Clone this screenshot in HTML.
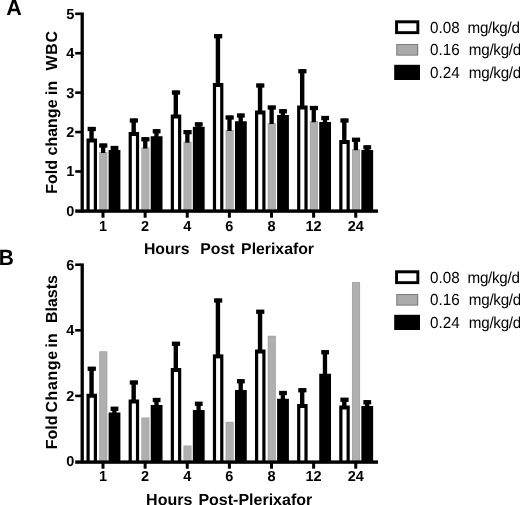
<!DOCTYPE html>
<html><head><meta charset="utf-8"><title>Figure</title>
<style>
html,body{margin:0;padding:0;background:#fff;}
body{width:520px;height:505px;overflow:hidden;}
svg{display:block;}
text{font-family:"Liberation Sans",Arial,sans-serif;fill:#000;text-rendering:geometricPrecision;}
.tk{font-size:14.5px;font-weight:bold;}
.pl{font-size:22px;font-weight:bold;}
.xl{font-size:15.8px;font-weight:bold;}
.yla{font-size:16px;font-weight:bold;}
.ylb{font-size:16px;font-weight:bold;}
.lg{font-size:16px;}
</style></head><body>
<svg width="520" height="505" viewBox="0 0 520 505">
<rect width="520" height="505" fill="#fff"/>
<rect x="86.5" y="138.5" width="10.5" height="72.2" fill="#000"/>
<rect x="89.7" y="142.5" width="4.1" height="68.2" fill="#fff"/>
<rect x="89.35" y="127.25" width="4.4" height="12.25" fill="#000"/>
<rect x="87.65" y="126.85" width="8.2" height="4.3" fill="#000"/>
<rect x="99.2" y="152" width="8.15" height="58.7" fill="#a2a2a2"/>
<rect x="99.9" y="152.7" width="6.75" height="58" fill="#afafaf"/>
<rect x="100.98" y="143.75" width="4.3" height="9.25" fill="#000"/>
<rect x="99.18" y="143.35" width="8.2" height="4.3" fill="#000"/>
<rect x="108.6" y="150" width="11.8" height="60.7" fill="#000"/>
<rect x="112.2" y="146.25" width="4.3" height="4.75" fill="#000"/>
<rect x="110.6" y="145.85" width="7.8" height="4.3" fill="#000"/>
<rect x="128.62" y="132" width="10.5" height="78.7" fill="#000"/>
<rect x="131.82" y="136" width="4.1" height="74.7" fill="#fff"/>
<rect x="131.47" y="118.75" width="4.4" height="14.25" fill="#000"/>
<rect x="129.78" y="118.35" width="8.2" height="4.3" fill="#000"/>
<rect x="141.32" y="147.5" width="8.15" height="63.2" fill="#a2a2a2"/>
<rect x="142.02" y="148.2" width="6.75" height="62.5" fill="#afafaf"/>
<rect x="143.1" y="137.5" width="4.3" height="11" fill="#000"/>
<rect x="141.3" y="137.1" width="8.2" height="4.3" fill="#000"/>
<rect x="150.72" y="136.25" width="11.8" height="74.45" fill="#000"/>
<rect x="154.32" y="129.5" width="4.3" height="7.75" fill="#000"/>
<rect x="152.72" y="129.1" width="7.8" height="4.3" fill="#000"/>
<rect x="170.75" y="114.5" width="10.5" height="96.2" fill="#000"/>
<rect x="173.95" y="118.5" width="4.1" height="92.2" fill="#fff"/>
<rect x="173.6" y="90.75" width="4.4" height="24.75" fill="#000"/>
<rect x="171.9" y="90.35" width="8.2" height="4.3" fill="#000"/>
<rect x="183.45" y="141.7" width="8.15" height="69" fill="#a2a2a2"/>
<rect x="184.15" y="142.4" width="6.75" height="68.3" fill="#afafaf"/>
<rect x="185.22" y="130.4" width="4.3" height="12.3" fill="#000"/>
<rect x="183.43" y="130" width="8.2" height="4.3" fill="#000"/>
<rect x="192.85" y="126.8" width="11.8" height="83.9" fill="#000"/>
<rect x="196.45" y="122.6" width="4.3" height="5.2" fill="#000"/>
<rect x="194.85" y="122.2" width="7.8" height="4.3" fill="#000"/>
<rect x="212.88" y="83" width="10.5" height="127.7" fill="#000"/>
<rect x="216.07" y="87" width="4.1" height="123.7" fill="#fff"/>
<rect x="215.72" y="34.5" width="4.4" height="49.5" fill="#000"/>
<rect x="214.03" y="34.1" width="8.2" height="4.3" fill="#000"/>
<rect x="225.57" y="130" width="8.15" height="80.7" fill="#a2a2a2"/>
<rect x="226.27" y="130.7" width="6.75" height="80" fill="#afafaf"/>
<rect x="227.35" y="115.75" width="4.3" height="15.25" fill="#000"/>
<rect x="225.55" y="115.35" width="8.2" height="4.3" fill="#000"/>
<rect x="234.97" y="121.25" width="11.8" height="89.45" fill="#000"/>
<rect x="238.57" y="113.75" width="4.3" height="8.5" fill="#000"/>
<rect x="236.97" y="113.35" width="7.8" height="4.3" fill="#000"/>
<rect x="255" y="110.5" width="10.5" height="100.2" fill="#000"/>
<rect x="258.2" y="114.5" width="4.1" height="96.2" fill="#fff"/>
<rect x="257.85" y="83.75" width="4.4" height="27.75" fill="#000"/>
<rect x="256.15" y="83.35" width="8.2" height="4.3" fill="#000"/>
<rect x="267.7" y="123" width="8.15" height="87.7" fill="#a2a2a2"/>
<rect x="268.4" y="123.7" width="6.75" height="87" fill="#afafaf"/>
<rect x="269.47" y="105.75" width="4.3" height="18.25" fill="#000"/>
<rect x="267.67" y="105.35" width="8.2" height="4.3" fill="#000"/>
<rect x="277.1" y="115" width="11.8" height="95.7" fill="#000"/>
<rect x="280.7" y="109.5" width="4.3" height="6.5" fill="#000"/>
<rect x="279.1" y="109.1" width="7.8" height="4.3" fill="#000"/>
<rect x="297.12" y="105.5" width="10.5" height="105.2" fill="#000"/>
<rect x="300.32" y="109.5" width="4.1" height="101.2" fill="#fff"/>
<rect x="299.98" y="69.5" width="4.4" height="37" fill="#000"/>
<rect x="298.27" y="69.1" width="8.2" height="4.3" fill="#000"/>
<rect x="309.82" y="121.25" width="8.15" height="89.45" fill="#a2a2a2"/>
<rect x="310.52" y="121.95" width="6.75" height="88.75" fill="#afafaf"/>
<rect x="311.6" y="106.25" width="4.3" height="16" fill="#000"/>
<rect x="309.8" y="105.85" width="8.2" height="4.3" fill="#000"/>
<rect x="319.23" y="122" width="11.8" height="88.7" fill="#000"/>
<rect x="322.82" y="116.25" width="4.3" height="6.75" fill="#000"/>
<rect x="321.23" y="115.85" width="7.8" height="4.3" fill="#000"/>
<rect x="339.25" y="140" width="10.5" height="70.7" fill="#000"/>
<rect x="342.45" y="144" width="4.1" height="66.7" fill="#fff"/>
<rect x="342.1" y="118.75" width="4.4" height="22.25" fill="#000"/>
<rect x="340.4" y="118.35" width="8.2" height="4.3" fill="#000"/>
<rect x="351.95" y="149.2" width="8.15" height="61.5" fill="#a2a2a2"/>
<rect x="352.65" y="149.9" width="6.75" height="60.8" fill="#afafaf"/>
<rect x="353.72" y="138" width="4.3" height="12.2" fill="#000"/>
<rect x="351.92" y="137.6" width="8.2" height="4.3" fill="#000"/>
<rect x="361.35" y="150" width="11.8" height="60.7" fill="#000"/>
<rect x="364.95" y="145.6" width="4.3" height="5.4" fill="#000"/>
<rect x="363.35" y="145.2" width="7.8" height="4.3" fill="#000"/>
<rect x="80.55" y="12.45" width="3.3" height="200.15" fill="#000"/>
<rect x="75.2" y="209.4" width="302.8" height="3.4" fill="#000"/>
<text x="74.3" y="215.8" text-anchor="end" class="tk">0</text>
<rect x="75.2" y="170.18" width="5.8" height="2.6" fill="#000"/>
<text x="74.3" y="176.38" text-anchor="end" class="tk">1</text>
<rect x="75.2" y="130.76" width="5.8" height="2.6" fill="#000"/>
<text x="74.3" y="136.96" text-anchor="end" class="tk">2</text>
<rect x="75.2" y="91.34" width="5.8" height="2.6" fill="#000"/>
<text x="74.3" y="97.54" text-anchor="end" class="tk">3</text>
<rect x="75.2" y="51.92" width="5.8" height="2.6" fill="#000"/>
<text x="74.3" y="58.12" text-anchor="end" class="tk">4</text>
<rect x="75.2" y="12.5" width="5.8" height="2.6" fill="#000"/>
<text x="74.3" y="18.7" text-anchor="end" class="tk">5</text>
<rect x="101.5" y="210.9" width="3" height="6.8" fill="#000"/>
<text x="103" y="230.5" text-anchor="middle" class="tk">1</text>
<rect x="143.62" y="210.9" width="3" height="6.8" fill="#000"/>
<text x="145.12" y="230.5" text-anchor="middle" class="tk">2</text>
<rect x="185.75" y="210.9" width="3" height="6.8" fill="#000"/>
<text x="187.25" y="230.5" text-anchor="middle" class="tk">4</text>
<rect x="227.88" y="210.9" width="3" height="6.8" fill="#000"/>
<text x="229.38" y="230.5" text-anchor="middle" class="tk">6</text>
<rect x="270" y="210.9" width="3" height="6.8" fill="#000"/>
<text x="271.5" y="230.5" text-anchor="middle" class="tk">8</text>
<rect x="312.12" y="210.9" width="3" height="6.8" fill="#000"/>
<text x="313.62" y="230.5" text-anchor="middle" class="tk">12</text>
<rect x="354.25" y="210.9" width="3" height="6.8" fill="#000"/>
<text x="355.75" y="230.5" text-anchor="middle" class="tk">24</text>
<rect x="86.5" y="393.75" width="10.5" height="67.55" fill="#000"/>
<rect x="89.7" y="397.75" width="4.1" height="63.55" fill="#fff"/>
<rect x="89.35" y="367" width="4.4" height="27.75" fill="#000"/>
<rect x="87.65" y="366.6" width="8.2" height="4.3" fill="#000"/>
<rect x="99.2" y="351.25" width="8.15" height="110.05" fill="#a2a2a2"/>
<rect x="99.9" y="351.95" width="6.75" height="109.35" fill="#afafaf"/>
<rect x="108.6" y="412.5" width="11.8" height="48.8" fill="#000"/>
<rect x="112.2" y="407" width="4.3" height="6.5" fill="#000"/>
<rect x="110.6" y="406.6" width="7.8" height="4.3" fill="#000"/>
<rect x="128.62" y="399.5" width="10.5" height="61.8" fill="#000"/>
<rect x="131.82" y="403.5" width="4.1" height="57.8" fill="#fff"/>
<rect x="131.47" y="380.75" width="4.4" height="19.75" fill="#000"/>
<rect x="129.78" y="380.35" width="8.2" height="4.3" fill="#000"/>
<rect x="141.32" y="417.5" width="8.15" height="43.8" fill="#a2a2a2"/>
<rect x="142.02" y="418.2" width="6.75" height="43.1" fill="#afafaf"/>
<rect x="150.72" y="405" width="11.8" height="56.3" fill="#000"/>
<rect x="154.32" y="398.25" width="4.3" height="7.75" fill="#000"/>
<rect x="152.72" y="397.85" width="7.8" height="4.3" fill="#000"/>
<rect x="170.75" y="368" width="10.5" height="93.3" fill="#000"/>
<rect x="173.95" y="372" width="4.1" height="89.3" fill="#fff"/>
<rect x="173.6" y="342" width="4.4" height="27" fill="#000"/>
<rect x="171.9" y="341.6" width="8.2" height="4.3" fill="#000"/>
<rect x="183.45" y="445.5" width="8.15" height="15.8" fill="#a2a2a2"/>
<rect x="184.15" y="446.2" width="6.75" height="15.1" fill="#afafaf"/>
<rect x="192.85" y="410" width="11.8" height="51.3" fill="#000"/>
<rect x="196.45" y="402" width="4.3" height="9" fill="#000"/>
<rect x="194.85" y="401.6" width="7.8" height="4.3" fill="#000"/>
<rect x="212.88" y="354.4" width="10.5" height="106.9" fill="#000"/>
<rect x="216.07" y="358.4" width="4.1" height="102.9" fill="#fff"/>
<rect x="215.72" y="298.75" width="4.4" height="56.65" fill="#000"/>
<rect x="214.03" y="298.35" width="8.2" height="4.3" fill="#000"/>
<rect x="225.57" y="421.8" width="8.15" height="39.5" fill="#a2a2a2"/>
<rect x="226.27" y="422.5" width="6.75" height="38.8" fill="#afafaf"/>
<rect x="234.97" y="390" width="11.8" height="71.3" fill="#000"/>
<rect x="238.57" y="379.5" width="4.3" height="11.5" fill="#000"/>
<rect x="236.97" y="379.1" width="7.8" height="4.3" fill="#000"/>
<rect x="255" y="349.5" width="10.5" height="111.8" fill="#000"/>
<rect x="258.2" y="353.5" width="4.1" height="107.8" fill="#fff"/>
<rect x="257.85" y="310" width="4.4" height="40.5" fill="#000"/>
<rect x="256.15" y="309.6" width="8.2" height="4.3" fill="#000"/>
<rect x="267.7" y="335.75" width="8.15" height="125.55" fill="#a2a2a2"/>
<rect x="268.4" y="336.45" width="6.75" height="124.85" fill="#afafaf"/>
<rect x="277.1" y="398.75" width="11.8" height="62.55" fill="#000"/>
<rect x="280.7" y="391.25" width="4.3" height="8.5" fill="#000"/>
<rect x="279.1" y="390.85" width="7.8" height="4.3" fill="#000"/>
<rect x="297.12" y="404" width="10.5" height="57.3" fill="#000"/>
<rect x="300.32" y="408" width="4.1" height="53.3" fill="#fff"/>
<rect x="299.98" y="388.5" width="4.4" height="16.5" fill="#000"/>
<rect x="298.27" y="388.1" width="8.2" height="4.3" fill="#000"/>
<rect x="319.23" y="373.75" width="11.8" height="87.55" fill="#000"/>
<rect x="322.82" y="350.5" width="4.3" height="24.25" fill="#000"/>
<rect x="321.23" y="350.1" width="7.8" height="4.3" fill="#000"/>
<rect x="339.25" y="405.5" width="10.5" height="55.8" fill="#000"/>
<rect x="342.45" y="409.5" width="4.1" height="51.8" fill="#fff"/>
<rect x="342.1" y="398" width="4.4" height="8.5" fill="#000"/>
<rect x="340.4" y="397.6" width="8.2" height="4.3" fill="#000"/>
<rect x="351.95" y="282" width="8.15" height="179.3" fill="#a2a2a2"/>
<rect x="352.65" y="282.7" width="6.75" height="178.6" fill="#afafaf"/>
<rect x="361.35" y="406" width="11.8" height="55.3" fill="#000"/>
<rect x="364.95" y="400.5" width="4.3" height="6.5" fill="#000"/>
<rect x="363.35" y="400.1" width="7.8" height="4.3" fill="#000"/>
<rect x="80.55" y="263.4" width="3.3" height="199.8" fill="#000"/>
<rect x="75.2" y="460.4" width="302.8" height="3.4" fill="#000"/>
<text x="74.3" y="466.4" text-anchor="end" class="tk">0</text>
<rect x="75.2" y="394.6" width="5.8" height="2.6" fill="#000"/>
<text x="74.3" y="400.8" text-anchor="end" class="tk">2</text>
<rect x="75.2" y="329" width="5.8" height="2.6" fill="#000"/>
<text x="74.3" y="335.2" text-anchor="end" class="tk">4</text>
<rect x="75.2" y="263.4" width="5.8" height="2.6" fill="#000"/>
<text x="74.3" y="269.6" text-anchor="end" class="tk">6</text>
<rect x="101.5" y="461.5" width="3" height="7.2" fill="#000"/>
<text x="103" y="481.1" text-anchor="middle" class="tk">1</text>
<rect x="143.62" y="461.5" width="3" height="7.2" fill="#000"/>
<text x="145.12" y="481.1" text-anchor="middle" class="tk">2</text>
<rect x="185.75" y="461.5" width="3" height="7.2" fill="#000"/>
<text x="187.25" y="481.1" text-anchor="middle" class="tk">4</text>
<rect x="227.88" y="461.5" width="3" height="7.2" fill="#000"/>
<text x="229.38" y="481.1" text-anchor="middle" class="tk">6</text>
<rect x="270" y="461.5" width="3" height="7.2" fill="#000"/>
<text x="271.5" y="481.1" text-anchor="middle" class="tk">8</text>
<rect x="312.12" y="461.5" width="3" height="7.2" fill="#000"/>
<text x="313.62" y="481.1" text-anchor="middle" class="tk">12</text>
<rect x="354.25" y="461.5" width="3" height="7.2" fill="#000"/>
<text x="355.75" y="481.1" text-anchor="middle" class="tk">24</text>
<rect x="395.1" y="20.3" width="24.2" height="13.8" fill="#000"/>
<rect x="398" y="23.3" width="18.4" height="7.9" fill="#fff"/>
<rect x="396.3" y="44.1" width="21.9" height="11.5" fill="#6e6e6e"/>
<rect x="397.2" y="45" width="20.1" height="9.7" fill="#aaaaaa"/>
<rect x="394.2" y="64.8" width="25.8" height="15.2" fill="#000"/>
<text transform="translate(430.1,32.7) scale(0.95,1)" class="lg" xml:space="preserve"><tspan x="0">0.08  </tspan><tspan x="39.4" style="letter-spacing:-0.3px">mg/kg/d</tspan></text>
<text transform="translate(430.1,55.3) scale(0.95,1)" class="lg" xml:space="preserve"><tspan x="0">0.16  </tspan><tspan x="40.8" style="letter-spacing:-0.3px">mg/kg/d</tspan></text>
<text transform="translate(430.1,77.9) scale(0.95,1)" class="lg" xml:space="preserve"><tspan x="0">0.24  </tspan><tspan x="40.8" style="letter-spacing:-0.3px">mg/kg/d</tspan></text>
<rect x="395.1" y="270.3" width="24.2" height="13.8" fill="#000"/>
<rect x="398" y="273.3" width="18.4" height="7.9" fill="#fff"/>
<rect x="396.3" y="294.1" width="21.9" height="11.5" fill="#6e6e6e"/>
<rect x="397.2" y="295" width="20.1" height="9.7" fill="#aaaaaa"/>
<rect x="394.2" y="314.8" width="25.8" height="15.2" fill="#000"/>
<text transform="translate(430.1,282.7) scale(0.95,1)" class="lg" xml:space="preserve"><tspan x="0">0.08  </tspan><tspan x="39.4" style="letter-spacing:-0.3px">mg/kg/d</tspan></text>
<text transform="translate(430.1,305.3) scale(0.95,1)" class="lg" xml:space="preserve"><tspan x="0">0.16  </tspan><tspan x="40.8" style="letter-spacing:-0.3px">mg/kg/d</tspan></text>
<text transform="translate(430.1,327.9) scale(0.95,1)" class="lg" xml:space="preserve"><tspan x="0">0.24  </tspan><tspan x="40.8" style="letter-spacing:-0.3px">mg/kg/d</tspan></text>
<text transform="translate(6.3,14.8) scale(0.98,1)" class="pl">A</text>
<text transform="translate(-1.3,265.4) scale(0.95,1)" class="pl">B</text>
<text y="254" class="xl" xml:space="preserve"><tspan x="143.9">Hours  </tspan><tspan x="200.3">Post </tspan><tspan x="241.1">Plerixafor</tspan></text>
<text y="504.5" class="xl" style="font-size:16px" xml:space="preserve"><tspan x="146.1">Hours </tspan><tspan x="198.4">Post-Plerixafor</tspan></text>
<text transform="translate(56.6,193.7) rotate(-90)" class="yla" xml:space="preserve"><tspan x="0">Fold change in  </tspan><tspan x="123.2" style="letter-spacing:0.7px">WBC</tspan></text>
<text transform="translate(56.6,449.3) rotate(-90)" class="ylb" xml:space="preserve"><tspan x="0">Fold </tspan><tspan x="36.7" style="letter-spacing:0.6px">Change </tspan><tspan x="101.9">in  </tspan><tspan x="126.2">Blasts</tspan></text>
</svg>
</body></html>
